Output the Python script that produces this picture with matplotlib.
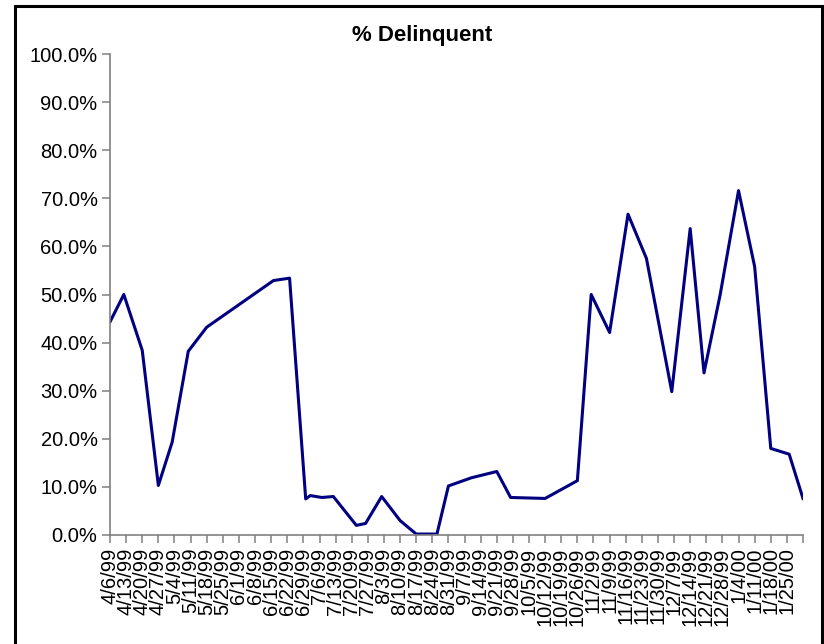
import pandas as pd
import matplotlib
matplotlib.use("Agg")
import matplotlib.pyplot as plt
from matplotlib.patches import Rectangle
from matplotlib.ticker import PercentFormatter

# observation dates (irregular) and share of accounts delinquent
dates = [
    "1999-04-06", "1999-04-12", "1999-04-20", "1999-04-27", "1999-05-03",
    "1999-05-10", "1999-05-18", "1999-06-16", "1999-06-23", "1999-06-30",
    "1999-07-02", "1999-07-07", "1999-07-12", "1999-07-22", "1999-07-26",
    "1999-08-02", "1999-08-10", "1999-08-17", "1999-08-26", "1999-08-31",
    "1999-09-10", "1999-09-21", "1999-09-27", "1999-10-12", "1999-10-26",
    "1999-11-01", "1999-11-09", "1999-11-17", "1999-11-25", "1999-12-06",
    "1999-12-14", "1999-12-20", "1999-12-27", "2000-01-04", "2000-01-11",
    "2000-01-18", "2000-01-26", "2000-02-01",
]
pct_delinquent = [
    44.3, 50.0, 38.4, 10.3, 19.3,
    38.2, 43.2, 52.9, 53.4, 7.5,
    8.2, 7.8, 8.0, 2.0, 2.4,
    8.0, 3.0, 0.2, 0.2, 10.2,
    11.9, 13.2, 7.8, 7.6, 11.3,
    50.0, 42.1, 66.7, 57.5, 29.8,
    63.7, 33.7, 49.9, 71.6, 55.8,
    18.0, 16.8, 7.6,
]

AXIS_START = "1999-04-06"
AXIS_END = "2000-02-01"

x = pd.to_datetime(dates)
ticks = pd.date_range(AXIS_START, AXIS_END, freq="7D")
tick_labels = [f"{d.month}/{d.day}/{d.strftime('%y')}" for d in ticks]
tick_labels[-1] = ""  # Excel drops the label at the axis end

plt.rcParams['font.family'] = ['Liberation Sans', 'DejaVu Sans']

fig = plt.figure(figsize=(8.24, 6.44), dpi=100)
ax = fig.add_axes([110/824, 1 - 535/644, (803 - 110)/824, (535 - 54)/644])

ax.plot(x, pct_delinquent, color="#000080", lw=2.2)

ax.set_xlim(pd.Timestamp(AXIS_START), pd.Timestamp(AXIS_END))
ax.set_ylim(0, 100)
ax.set_yticks(range(0, 101, 10))
ax.yaxis.set_major_formatter(PercentFormatter(decimals=1))
ax.set_xticks(ticks)
ax.set_xticklabels(tick_labels, rotation=90)

for side in ("top", "right"):
    ax.spines[side].set_visible(False)
for side in ("left", "bottom"):
    ax.spines[side].set_color("#808080")
    ax.spines[side].set_linewidth(1.2)
ax.tick_params(axis="both", length=6, width=1.1, color="#808080",
               labelsize=14.5, pad=3)

fig.text(422/824, 1 - 35/644, "% Delinquent", ha="center", va="center",
         fontsize=16, fontweight="bold")

# outer chart frame (runs off the bottom edge like the original)
fig.patches.append(Rectangle((15/824, -0.05), (822 - 15)/824, 1.05 - 6/644,
                             transform=fig.transFigure, fill=False,
                             edgecolor="black", lw=2.2))

fig.savefig("out.png", dpi=100)
